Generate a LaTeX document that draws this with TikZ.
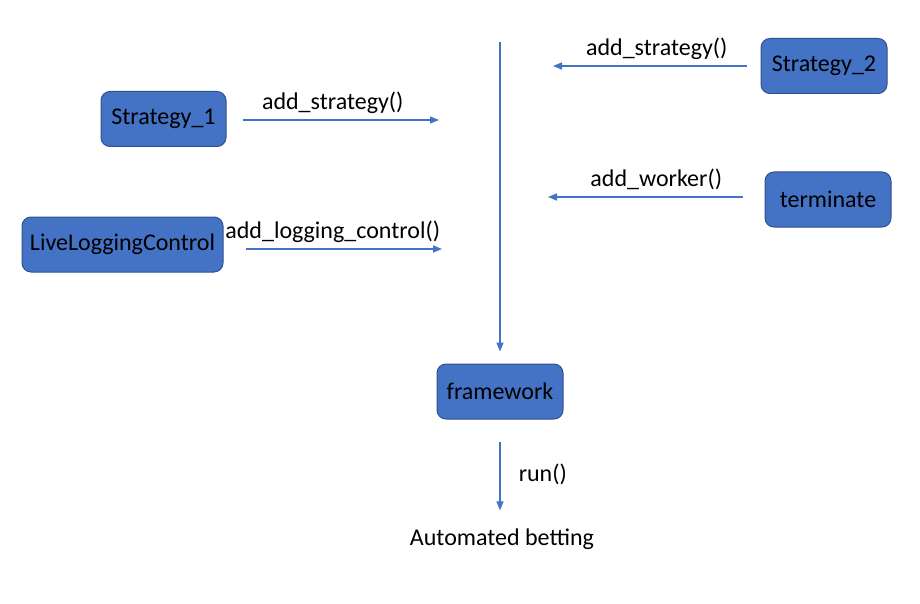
\documentclass[tikz,border=0pt]{standalone}
\usepackage{fontspec}
\setmainfont{Carlito}
\usetikzlibrary{arrows.meta,positioning}
\definecolor{boxblue}{HTML}{4472C4}
\definecolor{boxline}{HTML}{2F528F}
\tikzset{
  block/.style={draw=boxline, line width=1pt, fill=boxblue, rounded corners=9pt,
    text=black, minimum height=55pt, inner sep=0pt},
  flow/.style={draw=boxblue, line width=1.5pt, -{Triangle[length=9pt,width=7pt]}},
  call/.style={inner sep=0pt, text=black}
}
\begin{document}
\begin{tikzpicture}[x=1pt, y=-1pt, font=\fontsize{24}{28}\selectfont]
\useasboundingbox (0,0) rectangle (920,604);

\node[block, minimum width=125pt] (s1) at (163.5,119) {Strategy\_1};
\node[block, minimum width=201pt] (llc) at (122.5,244.5) {LiveLoggingControl};
\node[block, minimum width=126pt] (s2) at (824,66) {Strategy\_2};
\node[block, minimum width=126pt] (term) at (828,199.5) {terminate};
\node[block, minimum width=126pt] (fw) at (500,391.5) {framework};
\node[call] (bet) at (502,539) {Automated betting};

\coordinate (top) at (500,42);
\coordinate (s1end) at (439,120);
\coordinate (llcend) at (442,249);
\coordinate (s2end) at (553,66);
\coordinate (termend) at (548,197);

\draw[flow, shorten <=16pt] (s1.east |- s1end) -- (s1end)
  node[call, midway, above=6pt] {add\_strategy()};
\draw[flow, shorten <=22pt] (llc.east |- llcend) -- (llcend)
  node[call, midway, above=6pt] {add\_logging\_control()};

\draw[flow, shorten <=14pt] (s2.west) -- (s2end)
  node[call, midway, above=6pt] {add\_strategy()};
\draw[flow, shorten <=22pt] (term.west |- termend) -- (termend)
  node[call, midway, above=6pt] {add\_worker()};

\draw[flow, shorten >=12pt] (top) -- (fw.north);
\draw[flow, shorten <=22pt, shorten >=18pt] (fw.south) -- (fw.south |- bet.north)
  node[call, midway, right=18pt] {run()};

\end{tikzpicture}
\end{document}
